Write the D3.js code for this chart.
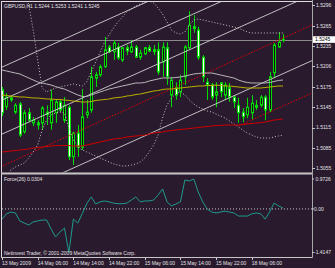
<!DOCTYPE html>
<html><head><meta charset="utf-8">
<script src="https://cdn.jsdelivr.net/npm/d3@7"></script>
<style>
html,body{margin:0;padding:0;background:#2a1a2e;overflow:hidden}
svg{display:block}
text{font-family:"Liberation Sans",Arial,sans-serif;font-size:5px;fill:#e4e4e4}
</style></head><body>
<svg id="c" width="335" height="268"></svg>
<script>
// ---------- data ----------
const title = "GBPUSD,H1  1.5244 1.5253 1.5241 1.5245";
const open  = [1.5171,1.5146,1.5156,1.5138,1.5150,1.5109,1.5137,1.5122,1.5122,1.5122,1.5138,1.5122,1.5137,1.5153,1.5126,1.5145,1.5072,1.5107,1.5086,1.5134,1.5141,1.5188,1.5193,1.5205,1.5234,1.5227,1.5234,1.5215,1.5233,1.5227,1.5234,1.5219,1.5224,1.5233,1.5230,1.5230,1.5212,1.5233,1.5163,1.5174,1.5168,1.5190,1.5233,1.5264,1.5259,1.5219,1.5182,1.5178,1.5163,1.5181,1.5163,1.5174,1.5160,1.5148,1.5138,1.5134,1.5137,1.5148,1.5148,1.5160,1.5141,1.5196,1.5234,1.5244];
const high  = [1.5175,1.5166,1.5162,1.5151,1.5153,1.5141,1.5144,1.5131,1.5126,1.5147,1.5148,1.5171,1.5156,1.5156,1.5160,1.5148,1.5109,1.5119,1.5172,1.5156,1.5205,1.5197,1.5208,1.5249,1.5237,1.5244,1.5240,1.5234,1.5237,1.5244,1.5237,1.5230,1.5234,1.5237,1.5237,1.5241,1.5241,1.5241,1.5190,1.5182,1.5193,1.5237,1.5287,1.5281,1.5264,1.5222,1.5188,1.5181,1.5182,1.5182,1.5182,1.5181,1.5163,1.5159,1.5144,1.5159,1.5163,1.5156,1.5163,1.5163,1.5197,1.5240,1.5256,1.5253];
const low   = [1.5132,1.5141,1.5153,1.5135,1.5101,1.5106,1.5123,1.5117,1.5112,1.5112,1.5119,1.5112,1.5122,1.5138,1.5122,1.5067,1.5060,1.5072,1.5082,1.5129,1.5137,1.5175,1.5190,1.5203,1.5225,1.5215,1.5215,1.5212,1.5222,1.5225,1.5218,1.5215,1.5222,1.5227,1.5222,1.5193,1.5190,1.5178,1.5145,1.5156,1.5160,1.5178,1.5230,1.5255,1.5215,1.5182,1.5156,1.5156,1.5145,1.5160,1.5156,1.5153,1.5144,1.5122,1.5123,1.5129,1.5126,1.5141,1.5145,1.5126,1.5138,1.5188,1.5233,1.5241];
const close = [1.5137,1.5160,1.5159,1.5148,1.5104,1.5137,1.5126,1.5126,1.5119,1.5144,1.5134,1.5156,1.5153,1.5141,1.5148,1.5072,1.5107,1.5086,1.5131,1.5138,1.5190,1.5193,1.5205,1.5230,1.5227,1.5240,1.5218,1.5233,1.5228,1.5234,1.5219,1.5225,1.5233,1.5228,1.5227,1.5197,1.5234,1.5190,1.5185,1.5163,1.5185,1.5234,1.5266,1.5261,1.5219,1.5190,1.5178,1.5160,1.5168,1.5168,1.5178,1.5160,1.5153,1.5137,1.5131,1.5145,1.5151,1.5145,1.5160,1.5141,1.5190,1.5237,1.5241,1.5245];
const maYellow = [1.51632,1.51624,1.51617,1.51610,1.51602,1.51602,1.51595,1.51588,1.51588,1.51580,1.51573,1.51573,1.51565,1.51565,1.51558,1.51551,1.51543,1.51536,1.51529,1.51529,1.51536,1.51551,1.51558,1.51565,1.51573,1.51588,1.51595,1.51602,1.51617,1.51624,1.51639,1.51647,1.51661,1.51676,1.51691,1.51698,1.51713,1.51720,1.51720,1.51728,1.51735,1.51742,1.51750,1.51757,1.51765,1.51765,1.51772,1.51772,1.51779,1.51772,1.51765,1.51765,1.51757,1.51750,1.51742,1.51735,1.51735,1.51735,1.51735,1.51742,1.51750,1.51757,1.51765,1.51765];
const maGray = [1.52001,1.51986,1.51971,1.51956,1.51942,1.51912,1.51883,1.51853,1.51824,1.51809,1.51794,1.51779,1.51757,1.51735,1.51720,1.51691,1.51661,1.51632,1.51610,1.51610,1.51632,1.51654,1.51676,1.51698,1.51720,1.51735,1.51750,1.51765,1.51779,1.51794,1.51809,1.51809,1.51816,1.51838,1.51853,1.51868,1.51883,1.51883,1.51883,1.51890,1.51897,1.51912,1.51927,1.51942,1.51949,1.51956,1.51956,1.51956,1.51942,1.51927,1.51912,1.51897,1.51883,1.51853,1.51831,1.51816,1.51809,1.51809,1.51809,1.51809,1.51816,1.51831,1.51846,1.51853];
const maRed = [1.50791,1.50798,1.50805,1.50813,1.50820,1.50827,1.50835,1.50850,1.50857,1.50864,1.50872,1.50879,1.50886,1.50886,1.50886,1.50886,1.50879,1.50879,1.50879,1.50894,1.50909,1.50923,1.50938,1.50953,1.50968,1.50982,1.50990,1.50997,1.51012,1.51019,1.51027,1.51034,1.51041,1.51056,1.51071,1.51078,1.51086,1.51100,1.51108,1.51115,1.51122,1.51130,1.51137,1.51144,1.51152,1.51159,1.51166,1.51174,1.51181,1.51181,1.51189,1.51189,1.51189,1.51189,1.51196,1.51204,1.51211,1.51218,1.51226,1.51233,1.51248,1.51263,1.51270,1.51278];
const bbUpper = [1.53624,1.53550,1.53477,1.53403,1.53299,1.53152,1.52960,1.52591,1.52148,1.51735,1.51676,1.51706,1.51735,1.51750,1.51765,1.51779,1.51794,1.51779,1.51765,1.51824,1.51971,1.52119,1.52266,1.52414,1.52517,1.52621,1.52709,1.52783,1.52857,1.52901,1.52945,1.52975,1.53004,1.53019,1.52990,1.52916,1.52827,1.52709,1.52591,1.52547,1.52532,1.52562,1.52665,1.52739,1.52753,1.52739,1.52724,1.52709,1.52694,1.52680,1.52665,1.52650,1.52635,1.52621,1.52591,1.52562,1.52547,1.52547,1.52547,1.52547,1.52547,1.52547,1.52547,1.52547];
const bbLower = [1.50336,1.50410,1.50528,1.50569,1.50599,1.50628,1.50702,1.50791,1.50894,1.51115,1.51263,1.51337,1.51366,1.51381,1.51366,1.51144,1.50968,1.50864,1.50820,1.50791,1.50761,1.50731,1.50702,1.50673,1.50643,1.50614,1.50599,1.50584,1.50584,1.50599,1.50614,1.50643,1.50702,1.50791,1.50894,1.51041,1.51293,1.51484,1.51588,1.51647,1.51676,1.51632,1.51558,1.51499,1.51455,1.51425,1.51396,1.51381,1.51351,1.51322,1.51293,1.51248,1.51204,1.51160,1.51115,1.51071,1.51041,1.51012,1.50997,1.50997,1.50997,1.51012,1.51027,1.51041];
const force = [-0.33,-0.16,-0.10,-0.13,-0.39,-0.46,-0.52,-0.42,-0.39,-0.36,-0.36,-0.65,-0.91,-0.75,-0.62,-1.4147,-0.33,-0.46,-0.15,0.17,0.39,0.16,0.23,0.26,0.23,0.19,0.17,0.17,0.19,0.29,0.39,0.23,0.26,0.26,0.29,0.45,0.65,0.23,0.10,0.16,0.23,0.94,0.91,0.9726,0.55,0.23,0.00,-0.10,-0.13,-0.10,-0.07,-0.10,-0.13,-0.23,-0.23,-0.23,-0.16,-0.13,-0.16,-0.33,-0.10,0.19,0.10,0.0304];
const priceTicks = [1.5296,1.5265,1.5235,1.5206,1.5175,1.5145,1.5115,1.5085,1.5055];
const forceTicks = [0.9726,0,-1.4147];
const forceTickLabels = ["0.9726","0.00","-1.4147"];
const timeBars = [0,8,16,24,32,40,48,56];
const timeLabels = ["13 May 2009","14 May 06:00","14 May 14:00","14 May 22:00","15 May 06:00","15 May 14:00","15 May 22:00","18 May 06:00"];
// channel objects: [bar, price] endpoints
const whiteChannel = [
  [[-0.45,1.52030],[69.5,1.54102]],
  [[-0.45,1.51543],[69.5,1.53615]],
  [[-0.45,1.51041],[69.5,1.53113]],
  [[-0.45,1.50067],[69.5,1.52139]]
];
const redChannel = [
  [[-0.45,1.50569],[69.5,1.52665]],
  [[53,1.51174],[69.5,1.51661]]
];
const bid = 1.5245;
const forceTitle = "Force(26) 0.0304";
const copyright = "Netinvest Trader, \u00A9 2001-2009 MetaQuotes Software Corp.";

// ---------- layout ----------
const svg = d3.select("#c");
const L = 2, R = 312, mainTop = 2, mainBot = 172.5, subTop = 174.5, subBot = 257;
const n = open.length;
const x = d3.scaleLinear().domain([0, n - 1]).range([2, 283]);
const y = d3.scaleLinear().domain([1.5055, 1.5296]).range([168.3, 5]);
const yf = d3.scaleLinear().domain([-1.4147, 0.9726]).range([252.5, 179]);

svg.append("rect").attr("width",335).attr("height",268).attr("fill","#2a1a2e");

const defs = svg.append("defs");
defs.append("clipPath").attr("id","cm").append("rect")
  .attr("x",L).attr("y",mainTop).attr("width",R-L).attr("height",mainBot-mainTop);
defs.append("clipPath").attr("id","cs").append("rect")
  .attr("x",L).attr("y",subTop).attr("width",R-L).attr("height",subBot-subTop);

const main = svg.append("g").attr("clip-path","url(#cm)");
const sub = svg.append("g").attr("clip-path","url(#cs)");

// bid line
main.append("line").attr("x1",L).attr("x2",R)
  .attr("y1",Math.round(y(bid))+0.5).attr("y2",Math.round(y(bid))+0.5)
  .attr("stroke","#8a8a8a").attr("stroke-width",1);

// candles
const bars = d3.range(n).map(i => ({i, o:open[i], h:high[i], l:low[i], c:close[i]}));
const px = d => Math.round(x(d.i));
main.append("g").selectAll("line").data(bars).join("line")
  .attr("x1",d=>px(d)+0.5).attr("x2",d=>px(d)+0.5)
  .attr("y1",d=>y(d.h)).attr("y2",d=>y(d.l))
  .attr("stroke","#00dd00").attr("stroke-width",1);
main.append("g").selectAll("rect").data(bars).join("rect")
  .attr("x",d=>px(d)-0.5).attr("width",2)
  .attr("y",d=>y(Math.max(d.o,d.c)))
  .attr("height",d=>Math.max(0.8, y(Math.min(d.o,d.c)) - y(Math.max(d.o,d.c))))
  .attr("fill",d=>d.c < d.o ? "#ffffff" : "#150b17")
  .attr("stroke","#00dd00").attr("stroke-width",1);

// objects: channels
const seg = d3.line().x(p=>x(p[0])).y(p=>y(p[1]));
main.append("g").selectAll("path").data(whiteChannel).join("path")
  .attr("d",seg).attr("fill","none").attr("stroke","#d2d2d2").attr("stroke-width",0.9);
main.append("g").selectAll("path").data(redChannel).join("path")
  .attr("d",seg).attr("fill","none").attr("stroke","#e00000").attr("stroke-width",1)
  .attr("stroke-dasharray","1.5,1.5");

// indicators
const idx = d3.range(n);
const lineOf = arr => d3.line().x(i=>x(i)).y(i=>y(arr[i]))(idx);
main.append("path").attr("d",lineOf(bbUpper)).attr("fill","none")
  .attr("stroke","#c4c4c4").attr("stroke-width",1).attr("stroke-dasharray","1,2");
main.append("path").attr("d",lineOf(bbLower)).attr("fill","none")
  .attr("stroke","#c4c4c4").attr("stroke-width",1).attr("stroke-dasharray","1,2");
main.append("path").attr("d",lineOf(maGray)).attr("fill","none")
  .attr("stroke","#b8b8b8").attr("stroke-width",1);
main.append("path").attr("d",lineOf(maRed)).attr("fill","none")
  .attr("stroke","#c80000").attr("stroke-width",1.1);
main.append("path").attr("d",lineOf(maYellow)).attr("fill","none")
  .attr("stroke","#b5ad00").attr("stroke-width",1.1);

// force panel
sub.append("line").attr("x1",L).attr("x2",R)
  .attr("y1",yf(0)).attr("y2",yf(0))
  .attr("stroke","#c8c8c8").attr("stroke-width",1).attr("stroke-dasharray","1,2");
sub.append("path").attr("d",d3.line().x(i=>x(i)).y(i=>yf(force[i]))(idx))
  .attr("fill","none").attr("stroke","#1d9c8c").attr("stroke-width",1);

// frames
svg.append("line").attr("x1",1).attr("x2",R).attr("y1",1.5).attr("y2",1.5).attr("stroke","#dcdcdc");
svg.append("line").attr("x1",1.5).attr("x2",1.5).attr("y1",1).attr("y2",subBot).attr("stroke","#dcdcdc");
svg.append("rect").attr("x",1).attr("y",mainBot).attr("width",R-1+1).attr("height",2).attr("fill","#c6c6c6");
svg.append("line").attr("x1",1).attr("x2",R+0.5).attr("y1",subBot+0.5).attr("y2",subBot+0.5).attr("stroke","#c6c6c6");
svg.append("line").attr("x1",R+0.5).attr("x2",R+0.5).attr("y1",0).attr("y2",subBot+0.5).attr("stroke","#a8a8a8");

// price axis
const pa = svg.append("g");
pa.selectAll("line").data(priceTicks).join("line")
  .attr("x1",R).attr("x2",R+3).attr("y1",d=>Math.round(y(d))+0.5).attr("y2",d=>Math.round(y(d))+0.5)
  .attr("stroke","#c8c8c8");
pa.selectAll("text").data(priceTicks).join("text")
  .attr("x",316).attr("y",d=>y(d)).attr("dy","0.35em").text(d=>d.toFixed(4));
svg.append("rect").attr("x",313).attr("y",y(bid)-3.3).attr("width",22).attr("height",6.6).attr("fill","#ffffff");
svg.append("text").attr("x",315).attr("y",y(bid)).attr("dy","0.35em").style("fill","#000").text(bid.toFixed(4));

// force axis
const fa = svg.append("g");
fa.selectAll("line").data(forceTicks).join("line")
  .attr("x1",R).attr("x2",R+2).attr("y1",d=>yf(d)).attr("y2",d=>yf(d)).attr("stroke","#c8c8c8");
fa.selectAll("text").data(forceTicks).join("text")
  .attr("x",(d,i)=>i===0?315.5:314).attr("y",d=>yf(d)).attr("dy","0.35em")
  .text((d,i)=>forceTickLabels[i]);

// time axis
const ta = svg.append("g");
ta.selectAll("line").data(timeBars).join("line")
  .attr("x1",d=>Math.round(x(d))+0.5).attr("x2",d=>Math.round(x(d))+0.5)
  .attr("y1",subBot+0.5).attr("y2",subBot+3).attr("stroke","#c8c8c8");
ta.selectAll("text").data(timeBars).join("text")
  .attr("x",d=>x(d)).attr("y",264.5).text((d,i)=>timeLabels[i]);

// titles
svg.append("text").attr("x",4).attr("y",7.8).text(title);
svg.append("text").attr("x",4).attr("y",180.8).text(forceTitle);
svg.append("text").attr("x",4).attr("y",255).text(copyright);
</script>
</body></html>
